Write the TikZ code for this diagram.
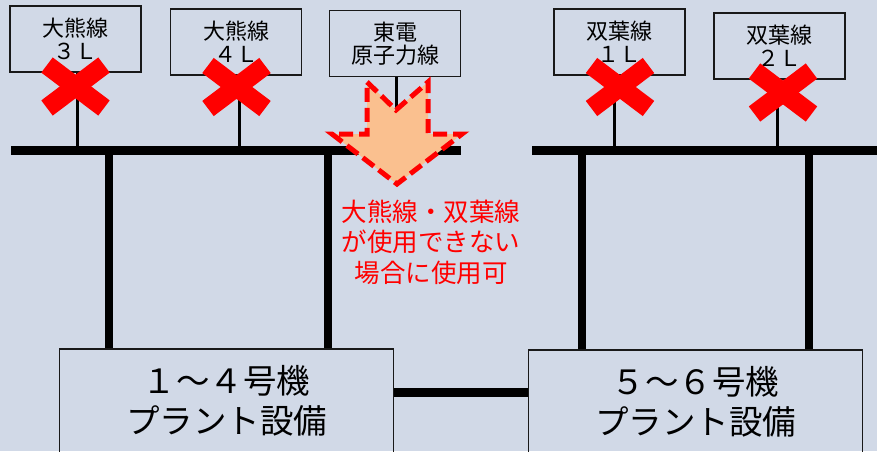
\documentclass[tikz,border=0pt]{standalone}
\usepackage{fontspec}
\setmainfont{Noto Sans CJK JP}
\usetikzlibrary{calc}
\definecolor{bg}{RGB}{209,217,231}
\definecolor{peach}{RGB}{250,192,143}
\definecolor{boxline}{RGB}{25,25,25}
\begin{document}
\begin{tikzpicture}[x=1pt,y=-1pt,
  linebox/.style={draw=boxline,line width=1.8pt,align=center,inner sep=0pt,
    minimum width=131pt,minimum height=66pt,font=\fontsize{22}{23}\selectfont},
  plantbox/.style={draw=boxline,line width=1.8pt,align=center,inner sep=0pt,
    minimum width=334pt,minimum height=104pt,font=\fontsize{33.5}{40}\selectfont},
  tapline/.style={line width=3pt,black},
  busline/.style={line width=9pt,black},
  feeder/.style={line width=8.5pt,black},
  xarm/.style={line width=19pt,red,line cap=butt},
  bigarrow/.style={draw=red,fill=peach,line width=5pt,dash pattern=on 14pt off 6pt,line join=miter},
  note/.style={red,align=center,font=\fontsize{25.5}{30.5}\selectfont}]
\fill[bg] (0,0) rectangle (877,451);
\clip (0,0) rectangle (877,451);
\useasboundingbox (0,0) rectangle (877,451);

% source boxes
\node[linebox] (b3) at (75.5,39) {大熊線\\３Ｌ};
\node[linebox] (b4) at (236,42) {大熊線\\４Ｌ};
\node[linebox] (bt) at (395,43.5) {東電\\原子力線};
\node[linebox] (b1) at (619.5,42) {双葉線\\１Ｌ};
\node[linebox] (b2) at (779.5,46) {双葉線\\２Ｌ};

% plant boxes
\node[plantbox] (p14) at (226.5,401) {１～４号機\\プラント設備};
\node[plantbox] (p56) at (695.5,402) {５～６号機\\プラント設備};

% buses
\coordinate (busLa) at (11,150.5);
\coordinate (busLb) at (461,150.5);
\coordinate (busRa) at (532,150.5);
\coordinate (busRb) at (877,150.5);
\draw[busline] (busLa) -- (busLb);
\draw[busline] (busRa) -- (busRb);

% taps from source boxes
\coordinate (t3) at (77,150.5);
\coordinate (t4) at (239,150.5);
\coordinate (t1) at (614,150.5);
\coordinate (t2) at (777.5,150.5);
\draw[tapline] (t3 |- b3.south) -- (t3);
\draw[tapline] (t4 |- b4.south) -- (t4);
\draw[tapline] (t1 |- b1.south) -- (t1);
\draw[tapline] (t2 |- b2.south) -- (t2);

% feeders to plant boxes
\coordinate (f1) at (109,150.5);
\coordinate (f2) at (328,150.5);
\coordinate (f3) at (582,150.5);
\coordinate (f4) at (809,150.5);
\draw[feeder] (f1) -- (f1 |- p14.north);
\draw[feeder] (f2) -- (f2 |- p14.north);
\draw[feeder] (f3) -- (f3 |- p56.north);
\draw[feeder] (f4) -- (f4 |- p56.north);

% tie between plants
\coordinate (tie) at (0,392);
\draw[busline] (p14.east |- tie) -- (p56.west |- tie);

% Tepco line tap and arrow
\coordinate (notch) at (396,110);
\draw[tapline] (notch |- bt.south) -- (notch);
\draw[bigarrow] (367,82) -- (notch) -- (428,82) -- (428,134) -- (462,134)
  -- (397,184) -- (332,134) -- (367,134) -- cycle;

% red crosses
\foreach \cx/\cy in {75.5/86.5,236.5/87,620/87,783/92.5}{
  \begin{scope}[shift={(\cx,\cy)}]
    \draw[xarm] (-28.5,-21.5) -- (28.5,21.5);
    \draw[xarm] (28.5,-21.5) -- (-28.5,21.5);
  \end{scope}
}

\node[note] (nt) at (431,242) {大熊線・双葉線\\が使用できない\\場合に使用可};
\end{tikzpicture}
\end{document}
